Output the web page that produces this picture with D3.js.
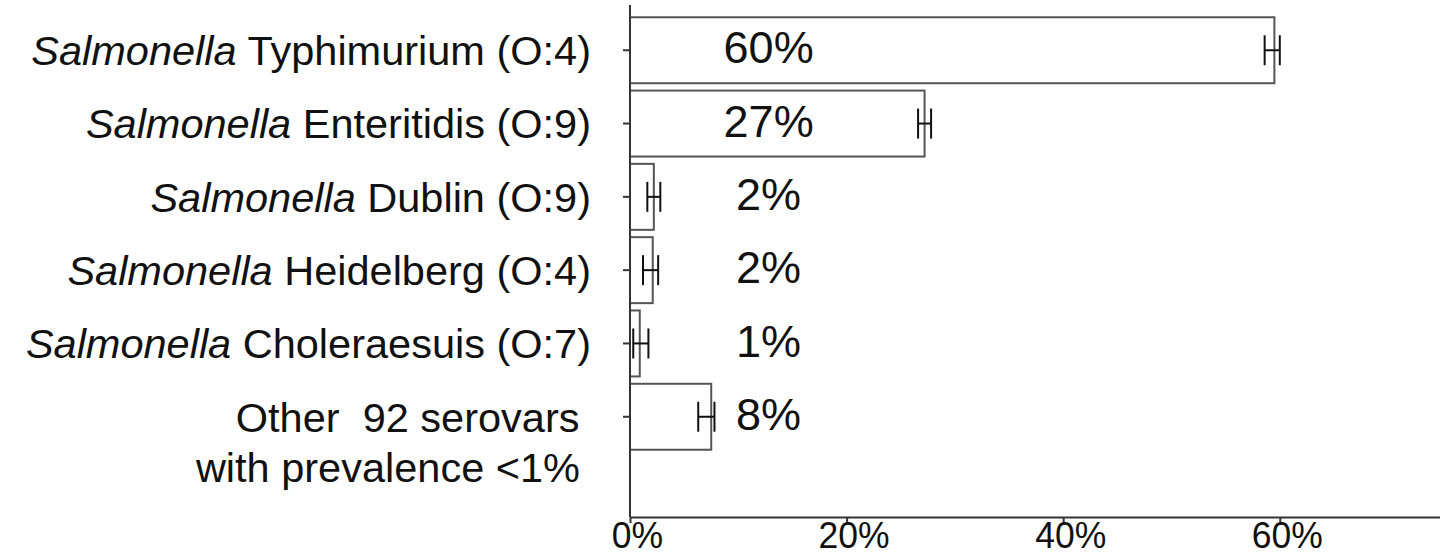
<!DOCTYPE html>
<html>
<head>
<meta charset="utf-8">
<script src="https://cdn.jsdelivr.net/npm/d3@7/dist/d3.min.js"></script>
<style>
  html, body { margin: 0; padding: 0; background: #fff; }
  svg { display: block; font-family: "Liberation Sans", Arial, sans-serif; }
</style>
</head>
<body>
<svg id="chart" width="1440" height="556"></svg>
<script>
// Serovar prevalence with 95% confidence intervals
const genus = ["Salmonella", "Salmonella", "Salmonella", "Salmonella", "Salmonella", ""];
const serovars = ["Typhimurium (O:4)", "Enteritidis (O:9)", "Dublin (O:9)", "Heidelberg (O:4)", "Choleraesuis (O:7)", "Other  92 serovars |with prevalence <1%"];
const prevalence = [59.5, 27.2, 2.2, 2.1, 0.9, 7.5];
const ciLow = [58.6, 26.6, 1.6, 1.2, 0.3, 6.3];
const ciHigh = [60.0, 27.8, 2.8, 2.6, 1.7, 7.8];
const xTicks = [0, 20, 40, 60];

const svg = d3.select("#chart");
const axisY = 517;

const x = d3.scaleLinear().domain([0, 75]).range([630, 630 + 75 * 10.83]);
const y = d3.scaleBand().domain(serovars).range([13.6, 453.4])
  .paddingInner(0.1).paddingOuter(0.05);

const rows = serovars.map((s, i) => ({
  key: s, genus: genus[i], value: prevalence[i], lo: ciLow[i], hi: ciHigh[i]
}));

// bars
svg.append("g").selectAll("rect").data(rows).join("rect")
  .attr("x", x(0))
  .attr("y", d => y(d.key))
  .attr("width", d => x(d.value) - x(0))
  .attr("height", y.bandwidth())
  .attr("fill", "#fff")
  .attr("stroke", "#555")
  .attr("stroke-width", 2);

// error bars
const eb = svg.append("g").attr("stroke", "#111").attr("stroke-width", 2).attr("fill", "none");
rows.forEach(d => {
  const cy = y(d.key) + y.bandwidth() / 2;
  eb.append("line").attr("x1", x(d.lo)).attr("x2", x(d.hi)).attr("y1", cy).attr("y2", cy);
  eb.append("line").attr("x1", x(d.lo)).attr("x2", x(d.lo)).attr("y1", cy - 15).attr("y2", cy + 15);
  eb.append("line").attr("x1", x(d.hi)).attr("x2", x(d.hi)).attr("y1", cy - 15).attr("y2", cy + 15);
});

// value labels
svg.append("g").selectAll("text").data(rows).join("text")
  .attr("x", x(12.8))
  .attr("y", d => y(d.key) + y.bandwidth() / 2 - 3)
  .attr("dy", "0.36em")
  .attr("text-anchor", "middle")
  .attr("font-size", 45)
  .attr("fill", "#111")
  .text(d => Math.round(d.value) + "%");

// y axis
const gy = svg.append("g").attr("transform", `translate(${x(0)},0)`)
  .call(d3.axisLeft(y).tickSize(7).tickSizeOuter(0).tickFormat(""));
gy.select(".domain").remove();
gy.selectAll(".tick line").attr("stroke", "#333").attr("stroke-width", 2);
svg.append("line").attr("x1", x(0)).attr("x2", x(0)).attr("y1", 5).attr("y2", axisY)
  .attr("stroke", "#333").attr("stroke-width", 2);

// category labels
const lab = svg.append("g").attr("font-size", 41.5).attr("fill", "#111").attr("text-anchor", "end");
rows.forEach(d => {
  const cy = y(d.key) + y.bandwidth() / 2;
  if (d.genus) {
    const t = lab.append("text").attr("x", 591).attr("y", cy).attr("dy", "0.36em");
    t.append("tspan").attr("font-style", "italic").text(d.genus);
    t.append("tspan").text(" " + d.key);
  } else {
    d.key.split("|").forEach((line, j) => {
      lab.append("text").attr("x", j === 0 ? 591 : 580).attr("y", cy + j * 50).attr("dy", "0.36em")
        .style("white-space", "pre").text(line);
    });
  }
});

// x axis
const gx = svg.append("g").attr("transform", `translate(0,${axisY})`)
  .call(d3.axisBottom(x).tickValues(xTicks).tickSize(6).tickSizeOuter(0).tickFormat(d => d + "%"));
gx.select(".domain").attr("stroke", "#333").attr("stroke-width", 2);
gx.selectAll(".tick line").attr("stroke", "#333").attr("stroke-width", 2);
gx.selectAll(".tick text")
  .attr("font-size", 37)
  .attr("fill", "#111")
  .attr("font-family", "\"Liberation Sans\", Arial, sans-serif")
  .attr("y", 0)
  .attr("dy", 0)
  .attr("transform", "translate(7,30.5) scale(0.96,1)");
</script>
</body>
</html>
